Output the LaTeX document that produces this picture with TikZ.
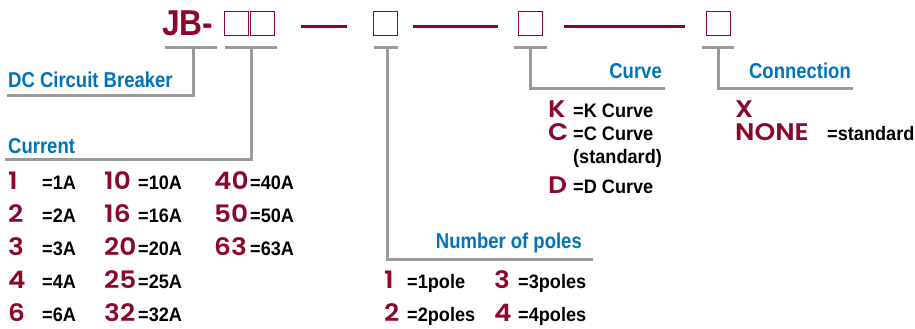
\documentclass[tikz,border=0pt]{standalone}
\usepackage{fontspec}
\setmainfont{Liberation Sans}
\newfontfamily\condf[FakeStretch=0.93]{Liberation Sans}
\newfontfamily\titlef[FakeStretch=0.88]{Liberation Sans}
\newfontfamily\bluef[FakeStretch=0.86]{Liberation Sans}
\newfontfamily\geof[FakeStretch=1.1]{Poppins SemiBold}
\definecolor{jred}{RGB}{140,8,42}
\definecolor{jblue}{RGB}{0,115,185}
\definecolor{jgray}{RGB}{155,155,155}
\tikzset{
  codebox/.style={draw=jred,line width=1pt,minimum width=24pt,minimum height=24pt,inner sep=0},
  gline/.style={draw=jgray,line width=3pt},
  rdash/.style={draw=jred,line width=3pt},
  lab/.style={inner sep=0,text=jblue,font=\bluef\bfseries\fontsize{21.5}{21.5}\selectfont},
  val/.style={inner sep=0,anchor=base west,text=jred,font=\geof\fontsize{24}{24}\selectfont},
  desc/.style={inner sep=0,anchor=base west,text=black,font=\condf\bfseries\fontsize{19.5}{19.5}\selectfont},
}
\begin{document}
\begin{tikzpicture}[x=1pt,y=-1pt]
\useasboundingbox (0,0) rectangle (915,329);
% title
\node[inner sep=0,anchor=base west,text=jred,font=\titlef\bfseries\fontsize{36}{36}\selectfont] (jb) at (162,36) {JB-};
\node[codebox] (b1) at (236.5,24) {};
\node[codebox] (b2) at (262.5,24) {};
\node[codebox] (b3) at (385.5,24) {};
\node[codebox] (b4) at (530.5,24) {};
\node[codebox] (b5) at (718,24) {};
% dashes
\coordinate (d1a) at (301,27); \coordinate (d1b) at (347,27);
\coordinate (d2a) at (413,27); \coordinate (d2b) at (498,27);
\coordinate (d3a) at (564,27); \coordinate (d3b) at (685,27);
\draw[rdash] (d1a) -- (d1b);
\draw[rdash] (d2a) -- (d2b);
\draw[rdash] (d3a) -- (d3b);
% underlines
\coordinate (u0a) at (165,48); \coordinate (u0b) at (217,48); \coordinate (u0) at (193,48);
\coordinate (u1a) at (225,48); \coordinate (u1b) at (277,48); \coordinate (u1) at (251,48);
\coordinate (u3a) at (374,48); \coordinate (u3b) at (398,48); \coordinate (u3) at (387,48);
\coordinate (u4a) at (514,48); \coordinate (u4b) at (547,48); \coordinate (u4) at (530,48);
\coordinate (u5a) at (702,48); \coordinate (u5b) at (734,48); \coordinate (u5) at (718,48);
\draw[gline] (u0a) -- (u0b);
\draw[gline] (u1a) -- (u1b);
\draw[gline] (u3a) -- (u3b);
\draw[gline] (u4a) -- (u4b);
\draw[gline] (u5a) -- (u5b);
% labels
\node[lab,anchor=base west] (ldc) at (8,88) {DC Circuit Breaker};
\node[lab,anchor=base west] (lcur) at (8,153) {Current};
\node[lab,anchor=base east] (lpol) at (582,248) {Number of poles};
\node[lab,anchor=base east] (lcurve) at (662,78) {Curve};
\node[lab,anchor=base east] (lcon) at (851,78) {Connection};
\coordinate (e0) at (7,95);
\coordinate (e1) at (5,159);
\coordinate (e3) at (593,259);
\coordinate (e4) at (665,88);
\coordinate (e5) at (853,88);
\draw[gline] (u0) |- (e0);
\draw[gline] (u1) |- (e1);
\draw[gline] (u3) |- (e3);
\draw[gline] (u4) |- (e4);
\draw[gline] (u5) |- (e5);
% current values
\node[val] (c1) at (8,189) {1};   \node[desc] (c1d) at (42,189) {=1A};
\node[val] (c2) at (8,222) {2};   \node[desc] (c2d) at (42,222) {=2A};
\node[val] (c3) at (8,255) {3};   \node[desc] (c3d) at (42,255) {=3A};
\node[val] (c4) at (8,288) {4};   \node[desc] (c4d) at (42,288) {=4A};
\node[val] (c6) at (8,321) {6};   \node[desc] (c6d) at (42,321) {=6A};
\node[val] (c10) at (104,189) {10}; \node[desc] (c10d) at (138,189) {=10A};
\node[val] (c16) at (104,222) {16}; \node[desc] (c16d) at (138,222) {=16A};
\node[val] (c20) at (104,255) {20}; \node[desc] (c20d) at (138,255) {=20A};
\node[val] (c25) at (104,288) {25}; \node[desc] (c25d) at (138,288) {=25A};
\node[val] (c32) at (104,321) {32}; \node[desc] (c32d) at (138,321) {=32A};
\node[val] (c40) at (214,189) {40}; \node[desc] (c40d) at (250,189) {=40A};
\node[val] (c50) at (214,222) {50}; \node[desc] (c50d) at (250,222) {=50A};
\node[val] (c63) at (214,255) {63}; \node[desc] (c63d) at (250,255) {=63A};
% poles
\node[val] (p1) at (384,288) {1}; \node[desc] (p1d) at (407,288) {=1pole};
\node[val] (p2) at (384,321) {2}; \node[desc] (p2d) at (407,321) {=2poles};
\node[val] (p3) at (494,288) {3}; \node[desc] (p3d) at (518,288) {=3poles};
\node[val] (p4) at (494,321) {4}; \node[desc] (p4d) at (518,321) {=4poles};
% curve
\node[val] (k) at (548,117) {K}; \node[desc] (kd) at (573,117) {=K Curve};
\node[val] (c) at (548,140) {C}; \node[desc] (cd) at (573,140) {=C Curve};
\node[desc] (cs) at (573,163) {(standard)};
\node[val] (d) at (548,193) {D}; \node[desc] (dd) at (573,193) {=D Curve};
% connection
\node[val] (x) at (735,117) {X};
\node[val] (none) at (735,140) {NONE}; \node[desc] (noned) at (827,140) {=standard};
\end{tikzpicture}
\end{document}
